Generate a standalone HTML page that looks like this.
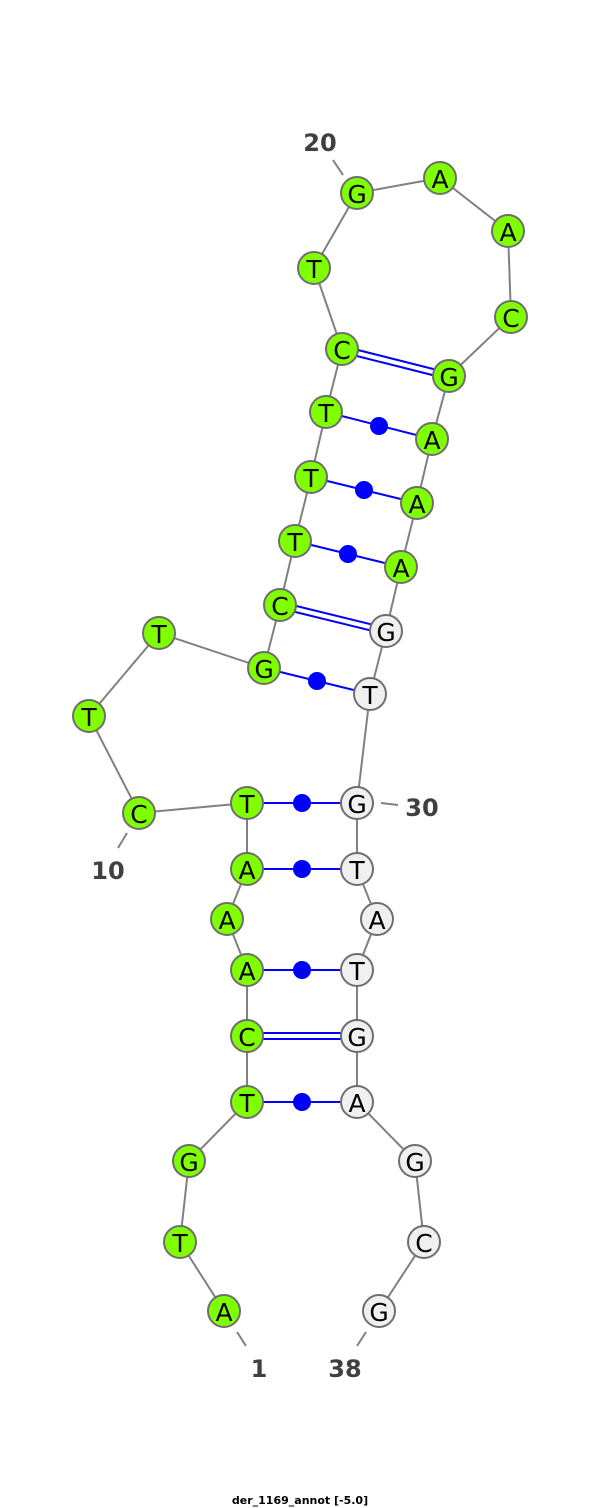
<!DOCTYPE html>
<html><head><meta charset="utf-8"><style>
html,body{margin:0;padding:0;background:#fff;width:600px;height:1508px;overflow:hidden}
svg text{font-family:"DejaVu Sans","Liberation Sans",sans-serif}
</style></head><body>
<svg width="600" height="1508" viewBox="0 0 600 1508" xmlns="http://www.w3.org/2000/svg">
<g id="bb" stroke="#808080" stroke-width="2" fill="none">
<polyline points="224,1311 180,1242 189,1161 247,1102 247,1036 247,970 227,919 247,869 247,803 139,813 89,716 159,633 264,668 280,605 295,541 311,477 326,412 342,349 314,268 357,193 440,178 508,231 511,317 449,376 432,439 417,503 401,567 386,631 370,694 357,803 357,869 377,919 357,970 357,1036 357,1102 415,1161 424,1242 379,1311"/>
<line x1="237" y1="1332" x2="246" y2="1346"/>
<line x1="366" y1="1332" x2="357" y2="1346"/>
<line x1="127" y1="833" x2="118" y2="848"/>
<line x1="381" y1="803" x2="398" y2="805"/>
<line x1="343" y1="175" x2="333" y2="160"/>
</g>
<g stroke="#0000ff" stroke-width="2" fill="#0000ff">
<line x1="247" y1="1102" x2="357" y2="1102"/><circle cx="302" cy="1102" r="9" stroke="none"/>
<line x1="247" y1="1033" x2="357" y2="1033"/><line x1="247" y1="1039" x2="357" y2="1039"/>
<line x1="247" y1="970" x2="357" y2="970"/><circle cx="302" cy="970" r="9" stroke="none"/>
<line x1="247" y1="869" x2="357" y2="869"/><circle cx="302" cy="869" r="9" stroke="none"/>
<line x1="247" y1="803" x2="357" y2="803"/><circle cx="302" cy="803" r="9" stroke="none"/>
<line x1="264" y1="668" x2="370" y2="694"/><circle cx="317" cy="681" r="9" stroke="none"/>
<line x1="280" y1="602" x2="386" y2="628"/><line x1="279" y1="608" x2="385" y2="634"/>
<line x1="295" y1="541" x2="401" y2="567"/><circle cx="348" cy="554" r="9" stroke="none"/>
<line x1="311" y1="477" x2="417" y2="503"/><circle cx="364" cy="490" r="9" stroke="none"/>
<line x1="326" y1="412" x2="432" y2="439"/><circle cx="379" cy="426" r="9" stroke="none"/>
<line x1="342" y1="346" x2="449" y2="373"/><line x1="341" y1="352" x2="448" y2="379"/>
</g>
<g stroke="#6e6e6e" stroke-width="2">
<g fill="#7fff00">
<circle cx="224" cy="1311" r="16"/><circle cx="180" cy="1242" r="16"/><circle cx="189" cy="1161" r="16"/><circle cx="247" cy="1102" r="16"/><circle cx="247" cy="1036" r="16"/><circle cx="247" cy="970" r="16"/><circle cx="227" cy="919" r="16"/><circle cx="247" cy="869" r="16"/><circle cx="247" cy="803" r="16"/><circle cx="139" cy="813" r="16"/><circle cx="89" cy="716" r="16"/><circle cx="159" cy="633" r="16"/><circle cx="264" cy="668" r="16"/><circle cx="280" cy="605" r="16"/><circle cx="295" cy="541" r="16"/><circle cx="311" cy="477" r="16"/><circle cx="326" cy="412" r="16"/><circle cx="342" cy="349" r="16"/><circle cx="314" cy="268" r="16"/><circle cx="357" cy="193" r="16"/><circle cx="440" cy="178" r="16"/><circle cx="508" cy="231" r="16"/><circle cx="511" cy="317" r="16"/><circle cx="449" cy="376" r="16"/><circle cx="432" cy="439" r="16"/><circle cx="417" cy="503" r="16"/><circle cx="401" cy="567" r="16"/>
</g>
<g fill="#f0f0f0">
<circle cx="386" cy="631" r="16"/><circle cx="370" cy="694" r="16"/><circle cx="357" cy="803" r="16"/><circle cx="357" cy="869" r="16"/><circle cx="377" cy="919" r="16"/><circle cx="357" cy="970" r="16"/><circle cx="357" cy="1036" r="16"/><circle cx="357" cy="1102" r="16"/><circle cx="415" cy="1161" r="16"/><circle cx="424" cy="1242" r="16"/><circle cx="379" cy="1311" r="16"/>
</g>
</g>
<g fill="#000" font-size="25" text-anchor="middle" transform="translate(0,1)">
<text x="224" y="1320">A</text><text x="180" y="1251">T</text><text x="189" y="1170">G</text><text x="247" y="1111">T</text><text x="247" y="1045">C</text><text x="247" y="979">A</text><text x="227" y="928">A</text><text x="247" y="878">A</text><text x="247" y="812">T</text><text x="139" y="822">C</text><text x="89" y="725">T</text><text x="159" y="642">T</text><text x="264" y="677">G</text><text x="280" y="614">C</text><text x="295" y="550">T</text><text x="311" y="486">T</text><text x="326" y="421">T</text><text x="342" y="358">C</text><text x="314" y="277">T</text><text x="357" y="202">G</text><text x="440" y="187">A</text><text x="508" y="240">A</text><text x="511" y="326">C</text><text x="449" y="385">G</text><text x="432" y="448">A</text><text x="417" y="512">A</text><text x="401" y="576">A</text><text x="386" y="640">G</text><text x="370" y="703">T</text><text x="357" y="812">G</text><text x="357" y="878">T</text><text x="377" y="928">A</text><text x="357" y="979">T</text><text x="357" y="1045">G</text><text x="357" y="1111">A</text><text x="415" y="1170">G</text><text x="424" y="1251">C</text><text x="379" y="1320">G</text>
</g>
<g fill="#404040" font-size="24" font-weight="bold" text-anchor="middle">
<text x="320" y="151">20</text>
<text x="108" y="879">10</text>
<text x="422" y="816">30</text>
<text x="259" y="1377">1</text>
<text x="345" y="1377">38</text>
</g>
<text x="300" y="1504" font-size="11" font-weight="bold" text-anchor="middle" fill="#000">der_1169_annot [-5.0]</text>
</svg>
</body></html>
